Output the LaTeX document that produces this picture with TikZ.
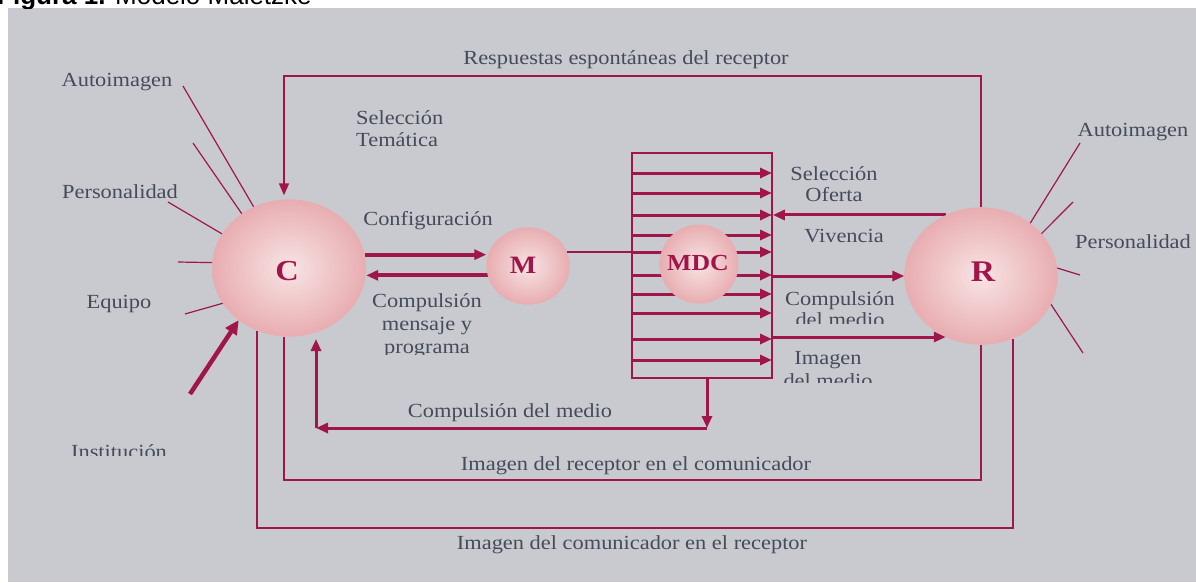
\documentclass[tikz,border=0pt]{standalone}
\usepackage{fontspec}
\setmainfont{Liberation Serif}[FakeStretch=1.12]
\newfontfamily\titlefont{Liberation Sans}
\usetikzlibrary{arrows.meta,shapes.geometric}
\definecolor{bg}{HTML}{C9CACF}
\definecolor{crim}{HTML}{A0154A}
\definecolor{txt}{HTML}{454B5B}
\definecolor{pinkL}{HTML}{F8E4E4}
\definecolor{pinkD}{HTML}{E8ADB1}
\begin{document}
\begin{tikzpicture}[x=1pt,y=-1pt,
  wire/.style={draw=crim,line width=1.6pt},
  boldwire/.style={draw=crim,line width=3pt},
  heavy/.style={draw=crim,line width=4pt},
  tip/.style={-{Triangle[length=12pt,width=10pt]}},
  bigtip/.style={-{Triangle[length=14pt,width=13pt]}},
  lbl/.style={text=txt,font=\fontsize{20}{22}\selectfont,inner sep=0pt,align=center},
  lbll/.style={lbl,align=left},
  ball/.style={ellipse,shading=radial,inner color=pinkL,outer color=pinkD,draw=none,inner sep=0pt},
  ltr/.style={text=crim,inner sep=0pt}
]
\useasboundingbox (0,0) rectangle (1196,582);
\fill[white] (0,0) rectangle (1196,582);
\fill[bg] (8,8) rectangle (1196,582);
\begin{scope}
  \clip (0,0) rectangle (1196,8);
  \node[anchor=base west,inner sep=0pt,text=black,font=\titlefont\fontsize{26}{26}\selectfont] (title) at (-3,4) {\textbf{Figura 1.} Modelo Maletzke};
\end{scope}

% coordinates
\coordinate (tl) at (284,76);
\coordinate (b1) at (0,480);
\coordinate (b2) at (0,528);
\coordinate (cm) at (316,428);

% geometry nodes (redrawn later on top)
\path node[ball,minimum width=154pt,minimum height=137pt] (C) at (289,268) {}
      node[ball,minimum width=83pt,minimum height=77pt] (M) at (528,266) {}
      node[ball,minimum width=153pt,minimum height=137pt] (R) at (981,276) {};

% feedback loops
\draw[wire,tip] (R.north) |- (tl) -- ([yshift=4pt]tl |- C.north);
\draw[wire] (C.south -| tl) -- (tl |- b1) -| (R.south);
\draw[wire] (C.243) -- (C.243 |- b2) -| (R.297);

% box
\node[draw=crim,line width=1.6pt,minimum width=140pt,minimum height=225pt,inner sep=0pt] (box) at (702,265.5) {};
\coordinate (bs) at ([xshift=5pt]box.south);
\foreach \yy in {173,193,215,235,252,275,294,313,339,360}
  \draw[boldwire,tip] (632,\yy) -- (772,\yy);

% M to MDC
\draw[wire] (M.20) -- (M.20 -| box.west);

% MDC on top of arrows
\node[ball,minimum width=79pt,minimum height=79pt] (MDC) at (699,264) {};

% C <-> M
\draw[heavy,tip] (C.10) -- (C.10 -| M.west);
\draw[heavy,tip] (M.193) -- (M.193 -| C.east);

% R <-> box
\draw[boldwire,tip] (R.120) -- (R.120 -| box.east);
\draw[boldwire,tip] (R.west -| box.east) -- (R.west);
\draw[boldwire,tip] (box.east |- R.240) -- (R.240);

% compulsion del medio loop
\draw[boldwire,tip] (bs) -- (bs |- cm);
\draw[boldwire,tip] (bs |- cm) -- (cm);
\draw[boldwire,tip] (cm) -- ++(0,-89);

% rays C
\coordinate (a1) at (183,86);
\coordinate (a2) at (193,143);
\coordinate (a3) at (168,202);
\coordinate (a4) at (178,262);
\coordinate (a5) at (185,314);
\coordinate (a6) at (190,394);
\draw[wire,line width=1.2pt] (a1) -- (C.120);
\draw[wire,line width=1.2pt] (a2) -- (C.131);
\draw[wire,line width=1.2pt] (a3) -- (C.153);
\draw[wire,line width=1.2pt] (a4) -- (C.176);
\draw[wire,line width=1.2pt] (a5) -- (C.208);
\draw[heavy,line width=4.5pt,bigtip] (a6) -- (C.226);

% rays R
\coordinate (r1) at (1080,143);
\coordinate (r2) at (1073,202);
\coordinate (r3) at (1080,275);
\coordinate (r4) at (1083,353);
\draw[wire,line width=1.2pt] (r1) -- (R.47);
\draw[wire,line width=1.2pt] (r2) -- (R.35);
\draw[wire,line width=1.2pt] (r3) -- (R.6);
\draw[wire,line width=1.2pt] (r4) -- (R.338);

% circles on top
\node[ball,minimum width=154pt,minimum height=137pt] (C2) at (C) {};
\node[ball,minimum width=83pt,minimum height=77pt] (M2) at (M) {};
\node[ball,minimum width=153pt,minimum height=137pt] (R2) at (R) {};
\node[ltr,font=\fontsize{29}{29}\selectfont\bfseries] (Cl) at (287,271) {C};
\node[ltr,font=\fontsize{25}{25}\selectfont\bfseries] (Ml) at (523,265) {M};
\node[ltr,font=\fontsize{23}{23}\selectfont\bfseries] (MDCl) at (698,263) {MDC};
\node[ltr,font=\fontsize{30}{30}\selectfont\bfseries] (Rl) at (983,272) {R};

% labels
\node[lbl] (t1) at (117,82) {Autoimagen};
\node[lbl] (t2) at (120,192) {Personalidad};
\node[lbl] (t3) at (119,304) {Equipo};
\begin{scope}
  \clip (40,430) rectangle (200,455);
  \node[lbl] (t4) at (119,452) {Institución};
\end{scope}
\node[lbl] (t5) at (1133,132) {Autoimagen};
\node[lbl] (t6) at (1133,242) {Personalidad};
\node[lbl] (t7) at (626,60) {Respuestas espontáneas del receptor};
\node[lbll,anchor=west] (t8) at (356,129) {Selección\\Temática};
\node[lbl] (t9) at (428,221) {Configuración};
\begin{scope}
  \clip (350,285) rectangle (520,354);
  \node[lbl,font=\fontsize{20}{23}\selectfont] (t10) at (427,326) {Compulsión\\mensaje y\\programa};
\end{scope}
\node[lbl,font=\fontsize{20}{20.5}\selectfont] (t11) at (834,184) {Selección\\Oferta};
\node[lbl] (t12) at (844,236) {Vivencia};
\begin{scope}
  \clip (780,280) rectangle (900,323);
  \node[lbl,font=\fontsize{20}{21}\selectfont] (t13) at (840,309) {Compulsión\\del medio};
\end{scope}
\begin{scope}
  \clip (780,345) rectangle (900,382);
  \node[lbl,font=\fontsize{20}{23}\selectfont] (t14) at (828,370) {Imagen\\del medio};
\end{scope}
\node[lbl] (t15) at (510,413) {Compulsión del medio};
\node[lbl] (t16) at (636,466) {Imagen del receptor en el comunicador};
\node[lbl] (t17) at (632,545) {Imagen del comunicador en el receptor};
\end{tikzpicture}
\end{document}
